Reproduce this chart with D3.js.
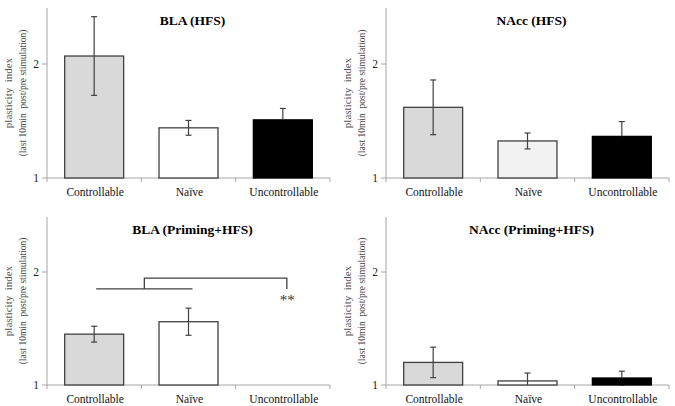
<!DOCTYPE html>
<html><head><meta charset="utf-8">
<script src="https://cdn.jsdelivr.net/npm/d3@7"></script>
<style>html,body{margin:0;padding:0;background:#fff;} svg{display:block;}</style>
</head><body>
<svg id="c" width="675" height="406"></svg>
<script>
const categories = ["Controllable", "Naïve", "Uncontrollable"];
const yTicks = [1, 2];
const titles = ["BLA (HFS)", "NAcc (HFS)", "BLA (Priming+HFS)", "NAcc (Priming+HFS)"];
const blaHfsMean = [2.07, 1.44, 1.51];
const blaHfsErr = [0.345, 0.065, 0.10];
const naccHfsMean = [1.62, 1.325, 1.365];
const naccHfsErr = [0.24, 0.07, 0.13];
const blaPrimMean = [1.45, 1.56, null];
const blaPrimErr = [0.07, 0.12, null];
const naccPrimMean = [1.20, 1.036, 1.062];
const naccPrimErr = [0.135, 0.07, 0.06];
const fillsA = ["#d9d9d9", "#ffffff", "#000000"];
const fillsB = ["#d9d9d9", "#f2f2f2", "#000000"];
const yLabel1 = "plasticity  index";
const yLabel2 = "(last 10min  post/pre stimulation)";
// significance bracket (BLA Priming+HFS)
const bracketLow = 1.85, bracketHigh = 1.945, starsY = 1.765, starsText = "**";

const panels = [
  {title: titles[0], mean: blaHfsMean, err: blaHfsErr, fills: fillsA, x0: 47, x1: 330, yBase: 178, yTop: 7, axTop: 8, titleY: 25},
  {title: titles[1], mean: naccHfsMean, err: naccHfsErr, fills: fillsB, x0: 386, x1: 669, yBase: 178, yTop: 7, axTop: 8, titleY: 25},
  {title: titles[2], mean: blaPrimMean, err: blaPrimErr, fills: fillsA, x0: 47, x1: 330, yBase: 385, yTop: 215.5, axTop: 217, titleY: 234, bracket: true},
  {title: titles[3], mean: naccPrimMean, err: naccPrimErr, fills: fillsA, x0: 386, x1: 669, yBase: 385, yTop: 215.5, axTop: 217, titleY: 234}
];

const svg = d3.select("#c");
const serif = "'Liberation Serif','Times New Roman',serif";
const axisCol = "#a6a6a6", barStroke = "#404040", errCol = "#404040";

panels.forEach(p => {
  const g = svg.append("g");
  const y = d3.scaleLinear().domain([1, 2.5]).range([p.yBase, p.yTop]);
  const x = d3.scaleBand().domain(categories).range([p.x0, p.x1]).paddingInner(0.375).paddingOuter(0.1875);

  g.append("line").attr("x1", p.x0).attr("x2", p.x0).attr("y1", p.axTop).attr("y2", p.yBase)
    .attr("stroke", axisCol).attr("stroke-width", 1);
  g.append("line").attr("x1", p.x0).attr("x2", p.x1).attr("y1", p.yBase).attr("y2", p.yBase)
    .attr("stroke", axisCol).attr("stroke-width", 1);
  const bounds = [p.x0].concat(categories.map((c, i) => p.x0 + x.step() * (i + 1)));
  g.selectAll(".xt").data(bounds).enter().append("line")
    .attr("x1", d => d).attr("x2", d => d).attr("y1", p.yBase).attr("y2", p.yBase + 4)
    .attr("stroke", axisCol);
  g.selectAll(".yt").data(yTicks).enter().append("line")
    .attr("x1", p.x0 - 5).attr("x2", p.x0).attr("y1", d => y(d)).attr("y2", d => y(d))
    .attr("stroke", axisCol);
  g.selectAll(".ytl").data(yTicks).enter().append("text")
    .attr("x", p.x0 - 8).attr("y", d => y(d) + 4).attr("text-anchor", "end")
    .attr("font-family", serif).attr("font-size", 11.5).attr("fill", "#222").text(d => d);

  g.selectAll(".cl").data(categories).enter().append("text")
    .attr("x", d => x(d) + x.bandwidth() / 2 + 1).attr("y", p.yBase + 18)
    .attr("text-anchor", "middle").attr("font-family", serif).attr("font-size", 11.5)
    .attr("fill", "#111").text(d => d);

  const cy = (p.axTop + p.yBase) / 2;
  g.append("text").attr("transform", `translate(${p.x0 - 35},${cy}) rotate(-90)`)
    .attr("text-anchor", "middle").attr("font-family", serif).attr("font-size", 11)
    .attr("fill", "#555").style("white-space", "pre").text(yLabel1);
  g.append("text").attr("transform", `translate(${p.x0 - 21},${cy}) rotate(-90)`)
    .attr("text-anchor", "middle").attr("font-family", serif).attr("font-size", 9.5)
    .attr("fill", "#444").style("white-space", "pre").text(yLabel2);

  g.append("text").attr("x", (p.x0 + p.x1) / 2 + 4).attr("y", p.titleY)
    .attr("text-anchor", "middle").attr("font-family", serif).attr("font-size", 13.5)
    .attr("font-weight", "bold").attr("fill", "#000").text(p.title);

  const data = categories.map((c, i) => ({c, m: p.mean[i], e: p.err[i], f: p.fills[i]})).filter(d => d.m != null);
  g.selectAll(".bar").data(data).enter().append("rect")
    .attr("x", d => x(d.c)).attr("width", x.bandwidth())
    .attr("y", d => y(d.m)).attr("height", d => y(1) - y(d.m))
    .attr("fill", d => d.f).attr("stroke", d => d.f === "#000000" ? "#000" : barStroke).attr("stroke-width", 1.3);

  data.forEach(d => {
    const cx = x(d.c) + x.bandwidth() / 2;
    const top = d.m + d.e;
    const botRaw = d.m - d.e;
    const bot = Math.max(1, botRaw);
    g.append("line").attr("x1", cx).attr("x2", cx).attr("y1", y(d.m)).attr("y2", y(top))
      .attr("stroke", errCol).attr("stroke-width", 1.2);
    g.append("line").attr("x1", cx - 3).attr("x2", cx + 3).attr("y1", y(top)).attr("y2", y(top))
      .attr("stroke", errCol).attr("stroke-width", 1.2);
    const lowCol = d.f === "#000000" ? "#000" : errCol;
    g.append("line").attr("x1", cx).attr("x2", cx).attr("y1", y(d.m)).attr("y2", y(bot))
      .attr("stroke", lowCol).attr("stroke-width", 1.2);
    if (botRaw >= 1) {
      g.append("line").attr("x1", cx - 3).attr("x2", cx + 3).attr("y1", y(bot)).attr("y2", y(bot))
        .attr("stroke", lowCol).attr("stroke-width", 1.2);
    }
  });

  if (p.bracket) {
    const c0 = x(categories[0]) + x.bandwidth() / 2 + 2;
    const c1 = x(categories[1]) + x.bandwidth() / 2 + 4;
    const c2 = x(categories[2]) + x.bandwidth() / 2 + 4;
    const mid = (c0 + c1) / 2;
    g.append("line").attr("x1", c0).attr("x2", c1).attr("y1", y(bracketLow)).attr("y2", y(bracketLow))
      .attr("stroke", barStroke).attr("stroke-width", 1.3);
    g.append("path")
      .attr("d", `M${mid},${y(bracketLow)}V${y(bracketHigh)}H${c2}V${y(bracketLow)}`)
      .attr("fill", "none").attr("stroke", barStroke).attr("stroke-width", 1.3);
    g.append("text").attr("x", c2 + 0.5).attr("y", y(starsY) + 6)
      .attr("text-anchor", "middle").attr("font-family", serif).attr("font-size", 15)
      .attr("fill", "#333").text(starsText);
  }
});
</script>
</body></html>
